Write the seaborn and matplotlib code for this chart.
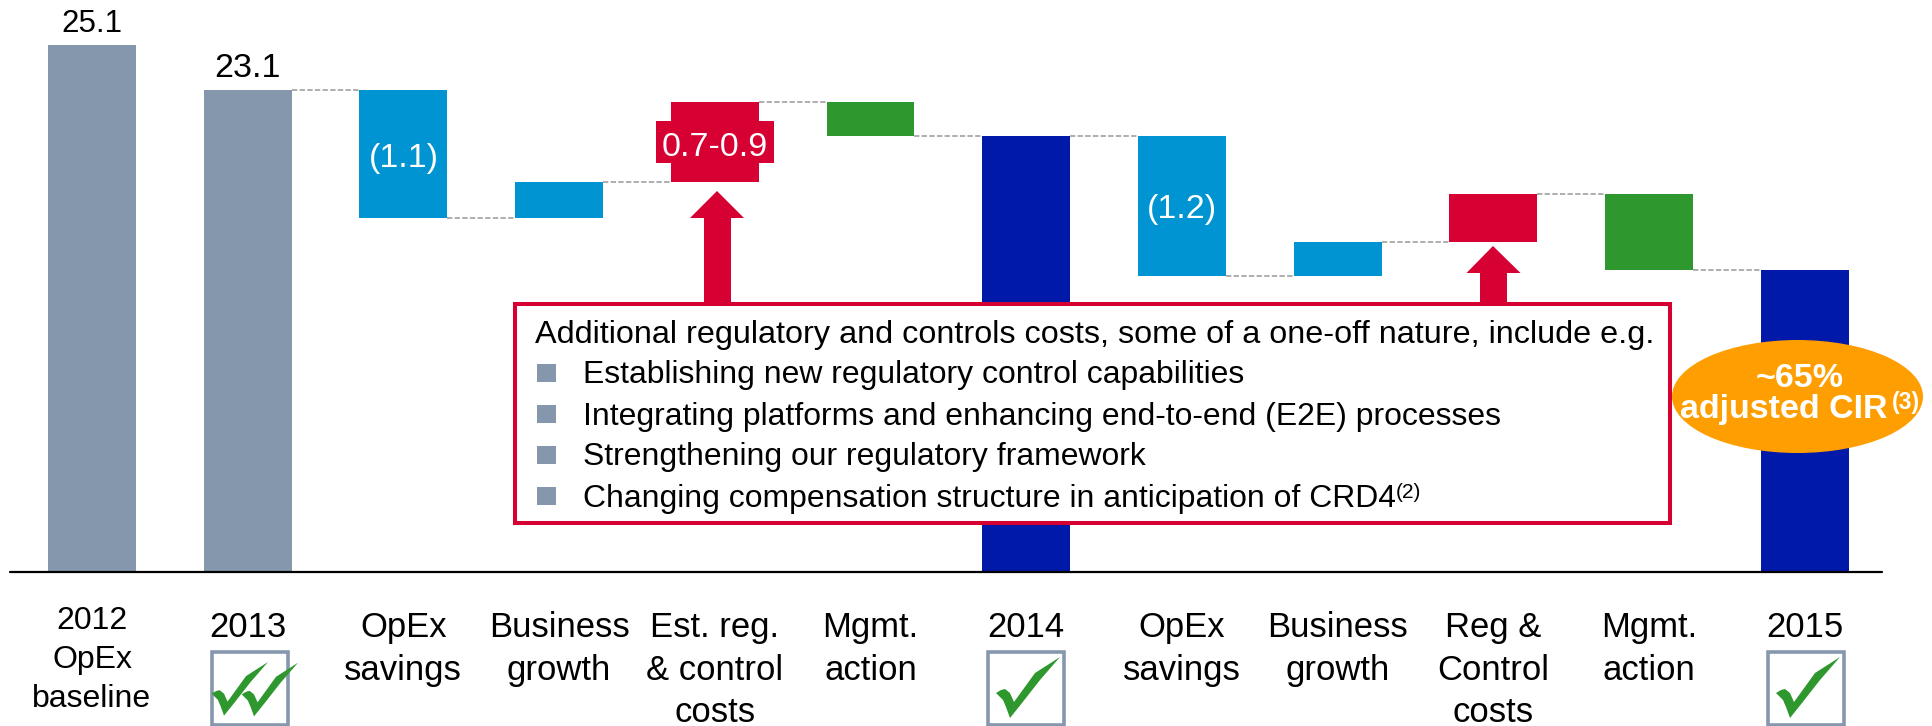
import matplotlib
matplotlib.use('Agg')
import numpy as np
import pandas as pd
import seaborn as sns
import matplotlib.pyplot as plt
from matplotlib.patches import Rectangle, Ellipse, Polygon

# bars are drawn to the slide's own scale, not to the printed numbers
categories = ['2012\nOpEx\nbaseline', '2013', 'OpEx\nsavings', 'Business\ngrowth',
              'Est. reg.\n& control\ncosts', 'Mgmt.\naction', '2014', 'OpEx\nsavings',
              'Business\ngrowth', 'Reg &\nControl\ncosts', 'Mgmt.\naction', '2015']
bar_bottom = [0, 0, 16.85, 16.85, 18.57, 20.76, 0, 14.08, 14.08, 15.71, 14.37, 0]
bar_top = [25.1, 22.95, 22.95, 18.57, 22.38, 22.38, 20.76, 20.76, 15.71, 17.99, 17.99, 14.37]
connector_level = [22.95, 16.85, 18.57, 22.38, 20.76, 20.76, 14.08, 15.71, 17.99, 14.37]
connector_from = [1, 2, 3, 4, 5, 6, 7, 8, 9, 10]

SLATE = '#8497AD'
SKY = '#0094D2'
NAVY = '#0019A8'
RED = '#D70032'
GREEN = '#2E972E'
ORANGE = '#FF9E00'
bar_colors = [SLATE, SLATE, SKY, SKY, RED, GREEN, NAVY, SKY, SKY, RED, GREEN, NAVY]

bullets = ['Establishing new regulatory control capabilities',
           'Integrating platforms and enhancing end-to-end (E2E) processes',
           'Strengthening our regulatory framework',
           'Changing compensation structure in anticipation of CRD4']

sns.set_theme(style='white')
plt.rcParams['font.family'] = ['Liberation Sans', 'DejaVu Sans']

W, H = 1932, 726
BASE = 571.5
X0, STEP, UNIT = 92, 155.7, 20.98
BAR_W = 0.565
fig = plt.figure(figsize=(W / 100, H / 100), dpi=100)
ax = fig.add_axes([0, 1 - BASE / H, 1, BASE / H])

df = pd.DataFrame({'slot': np.arange(len(categories)), 'height': np.array(bar_top) - np.array(bar_bottom)})
sns.barplot(data=df, x='slot', y='height', bottom=bar_bottom, width=BAR_W, saturation=1,
            color=SLATE, linewidth=0, ax=ax)
for patch, color in zip(ax.patches, bar_colors):
    patch.set_facecolor(color)

ax.set_xticks(df['slot'], categories)
ax.set_xlim(-X0 / STEP, (W - X0) / STEP)
ax.set_ylim(0, BASE / UNIT)
ax.set_xlabel('')
ax.set_ylabel('')
ax.set_yticks([])
sns.despine(ax=ax, left=True, bottom=True)
ax.tick_params(axis='x', length=0, labelsize=24.9, pad=28.7, labelcolor='black')
for label in ax.get_xticklabels():
    label.set_linespacing(1.36)
first = ax.get_xticklabels()[0]
first.set_linespacing(1.38)
first.set_fontsize(23)
ax.xaxis.get_major_ticks()[0].set_pad(25)

half = BAR_W / 2
for i, level in zip(connector_from, connector_level):
    ax.plot([i + half, i + 1 - half], [level, level], color='#999999', lw=1.1, ls=(0, (3.5, 1.5)))
ax.plot([(10 - X0) / STEP, (1882 - X0) / STEP], [0, 0], color='black', lw=1.6, clip_on=False, zorder=5)

ax.text(0, 25.72, '25.1', ha='center', va='baseline', fontsize=22.5, color='black')
ax.text(1, 23.57, '23.1', ha='center', va='baseline', fontsize=24.5, color='black')
ax.text(2, 19.3, '(1.1)', ha='center', va='baseline', fontsize=24.5, color='white')
ax.text(7, 16.85, '(1.2)', ha='center', va='baseline', fontsize=24.5, color='white')

# slide annotations, in pixel coordinates of the figure
ov = fig.add_axes([0, 0, 1, 1], facecolor='none')
ov.set_xlim(0, W)
ov.set_ylim(H, 0)
ov.axis('off')

ov.add_patch(Rectangle((656, 121), 118, 42, color=RED, lw=0))
ov.text(715, 156, '0.7-0.9', ha='center', va='baseline', fontsize=24.5, color='white')

ov.add_patch(Polygon([(717, 191), (744, 218), (731, 218), (731, 304), (704, 304), (704, 218), (690, 218)],
                     color=RED, lw=0))
ov.add_patch(Polygon([(1493, 246), (1520.5, 273), (1507, 273), (1507, 304), (1480, 304), (1480, 273), (1466.5, 273)],
                     color=RED, lw=0))

ov.add_patch(Rectangle((515, 304), 1155, 219, facecolor='white', edgecolor=RED, lw=2.9))
ov.text(535, 343, 'Additional regulatory and controls costs, some of a one-off nature, include e.g.',
        ha='left', va='baseline', fontsize=23.3, color='black')
for k, line in enumerate(bullets):
    ov.add_patch(Rectangle((537, 363.5 + k * 41), 19, 18.5, color=SLATE, lw=0))
    ov.text(583, 383.5 + k * 41, line, ha='left', va='baseline', fontsize=22.95, color='black')
ov.text(1396, 492, '(2)', ha='left', va='center', fontsize=15, color='black')

ov.add_patch(Ellipse((1797.5, 396.5), 251, 113, color=ORANGE, lw=0))
ov.text(1800, 387, '~65%', ha='center', va='baseline', fontsize=24.5, color='white', fontweight='bold')
ov.text(1680, 418, 'adjusted CIR', ha='left', va='baseline', fontsize=24.5, color='white', fontweight='bold')
ov.text(1892, 402, '(3)', ha='left', va='center', fontsize=16.5, color='white', fontweight='bold')

check = np.array([(0, 36), (5, 33), (9, 32), (14, 36), (18, 45), (39, 16), (64, 0), (44, 23), (26, 46), (14, 61), (10, 50), (7, 43)], float)
for x0, marks in [(210, [(0.88, 1.7, 12), (0.88, 31.7, 12.7)]), (986, [(1, 10, 7)]), (1766, [(1, 10, 7)])]:
    ov.add_patch(Rectangle((x0 + 1.5, 651.5), 76, 73, facecolor='white', edgecolor=SLATE, lw=2.6))
    for scale, dx, dy in marks:
        ov.add_patch(Polygon(check * scale + [x0 + dx, 650 + dy], color=GREEN, lw=0))

fig.savefig('out.png', dpi=100)
